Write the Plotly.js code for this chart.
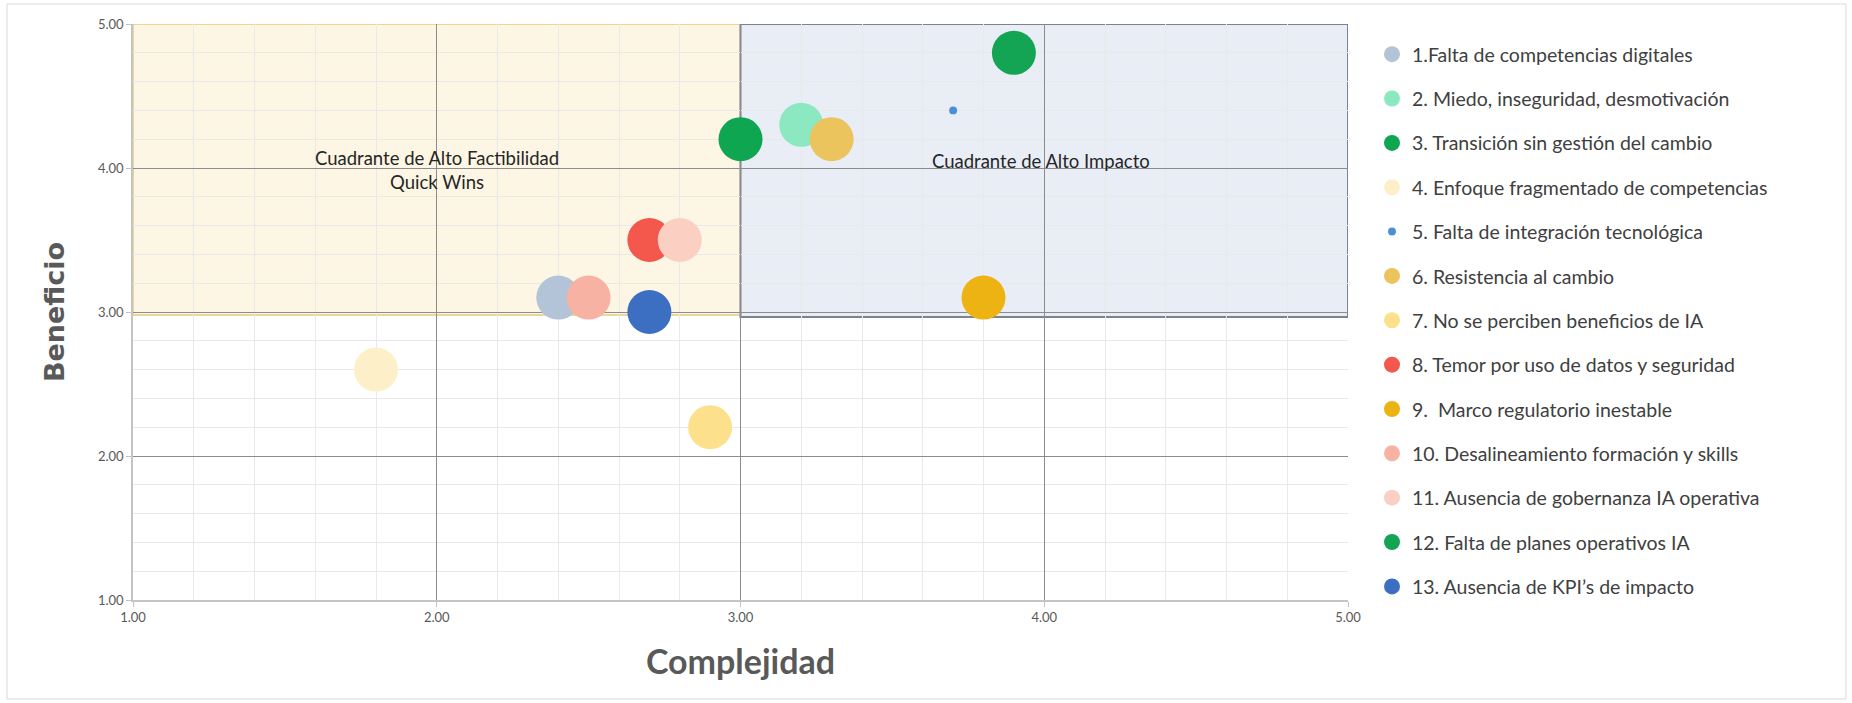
<!DOCTYPE html>
<html>
<head>
<meta charset="utf-8">
<script src="https://cdn.plot.ly/plotly-3.0.1.min.js"></script>
<style>
  html, body { margin: 0; padding: 0; background: #ffffff; }
  #chart { width: 1852px; height: 703px; }
</style>
</head>
<body>
<div id="chart"></div>
<script>
// ---- Data ----
const seriesNames = [
  "1.Falta de competencias digitales",
  "2. Miedo, inseguridad, desmotivación",
  "3. Transición sin gestión del cambio",
  "4. Enfoque fragmentado de competencias",
  "5. Falta de integración tecnológica",
  "6. Resistencia al cambio",
  "7. No se perciben beneficios de IA",
  "8. Temor por uso de datos y seguridad",
  "9.  Marco regulatorio inestable",
  "10. Desalineamiento formación y skills",
  "11. Ausencia de gobernanza IA operativa",
  "12. Falta de planes operativos IA",
  "13. Ausencia de KPI’s de impacto"
];
const complejidad = [2.4, 3.2, 3.0, 1.8, 3.7, 3.3, 2.9, 2.7, 3.8, 2.5, 2.8, 3.9, 2.7];
const beneficio   = [3.1, 4.3, 4.2, 2.6, 4.4, 4.2, 2.2, 3.5, 3.1, 3.1, 3.5, 4.8, 3.0];
const bubbleSize  = [10, 10, 10, 10, 1.8, 10, 10, 10, 10, 10, 10, 10, 10];
const colors = ["#b3c3d8", "#8ce8c0", "#0fa651", "#fdf0c9", "#4a8fd8", "#ecc45e", "#fde08c",
                "#f4574b", "#edb313", "#f8b2a3", "#fbd0c3", "#13a553", "#3c6ec2"];
const xTickVals = [1, 2, 3, 4, 5];
const yTickVals = [1, 2, 3, 4, 5];
const quadrantLabels = ["Cuadrante de Alto Factibilidad<br>Quick Wins", "Cuadrante de Alto Impacto"];

// ---- Layout constants ----
const W = 1852, H = 703;
const ML = 133, MR = 504, MT = 24, MB = 103;
const PW = W - ML - MR, PH = H - MT - MB;
const px2x = p => (p - ML) / PW;
const px2y = p => (H - MB - p) / PH;
const SIZE_SCALE = 4.4;

const traces = seriesNames.map((name, i) => ({
  type: "scatter",
  mode: "markers",
  name: name,
  legendgroup: "g" + i,
  x: [complejidad[i]],
  y: [beneficio[i]],
  marker: { size: bubbleSize[i] * SIZE_SCALE, color: colors[i], opacity: 1, line: { width: 0 } },
  hoverinfo: "x+y+name"
}));

const layout = {
  width: W, height: H,
  margin: { l: ML, r: MR, t: MT, b: MB },
  paper_bgcolor: "#ffffff",
  plot_bgcolor: "#ffffff",
  font: { family: "Lato, 'Open Sans', sans-serif", color: "#595959" },
  showlegend: true,
  legend: {
    x: px2x(1372), y: px2y(35), xanchor: "left", yanchor: "top",
    traceorder: "grouped", tracegroupgap: 16,
    font: { family: "Lato, sans-serif", size: 19.5, color: "#404040" },
    bgcolor: "rgba(0,0,0,0)", itemsizing: "trace"
  },
  xaxis: {
    range: [1, 5], tickvals: xTickVals, tickformat: ".2f",
    showgrid: true, gridcolor: "#8c8c8c", gridwidth: 1,
    minor: { dtick: 0.2, showgrid: true, gridcolor: "#e9e9e9", gridwidth: 1 },
    zeroline: false, showline: true, linecolor: "#c4c4c4", linewidth: 1.5,
    ticks: "outside", ticklen: 5, tickcolor: "#c4c4c4",
    tickfont: { family: "Lato, sans-serif", size: 13, color: "#595959" },
    title: { text: "Complejidad", standoff: 26,
             font: { family: "Lato, sans-serif", size: 34, color: "#595959", weight: "bold" } },
    fixedrange: true
  },
  yaxis: {
    range: [1, 5], tickvals: yTickVals, tickformat: ".2f",
    showgrid: true, gridcolor: "#8c8c8c", gridwidth: 1,
    minor: { dtick: 0.2, showgrid: true, gridcolor: "#e9e9e9", gridwidth: 1 },
    zeroline: false, showline: true, linecolor: "#c4c4c4", linewidth: 1.5,
    ticks: "outside", ticklen: 5, tickcolor: "#c4c4c4",
    tickfont: { family: "Lato, sans-serif", size: 13, color: "#595959" },
    title: { text: "Beneficio", standoff: 25,
             font: { family: "'DejaVu Sans', Verdana, sans-serif", size: 27, color: "#595959", weight: "bold" } },
    fixedrange: true
  },
  shapes: [
    { type: "rect", xref: "x", yref: "y", x0: 1, x1: 3, y0: 2.98, y1: 5, layer: "below",
      fillcolor: "#fdf6e4", line: { color: "#e4cc7c", width: 1.5 } },
    { type: "rect", xref: "x", yref: "y", x0: 3, x1: 5, y0: 2.965, y1: 5, layer: "below",
      fillcolor: "#e9edf6", line: { color: "#7c8290", width: 2 } },
    { type: "rect", xref: "paper", yref: "paper",
      x0: px2x(7), x1: px2x(1846), y0: px2y(699), y1: px2y(4),
      fillcolor: "rgba(0,0,0,0)", line: { color: "#d9d9d9", width: 1 }, layer: "below" }
  ],
  annotations: [
    { x: 2.0, y: 3.985, xref: "x", yref: "y", text: quadrantLabels[0], showarrow: false,
      font: { family: "Lato, sans-serif", size: 18.5, color: "#262626" }, align: "center" },
    { x: 3.99, y: 4.05, xref: "x", yref: "y", text: quadrantLabels[1], showarrow: false,
      font: { family: "Lato, sans-serif", size: 18.5, color: "#262626" }, align: "center" }
  ]
};

Plotly.newPlot("chart", traces, layout, { displayModeBar: false, staticPlot: false });
</script>
</body>
</html>
